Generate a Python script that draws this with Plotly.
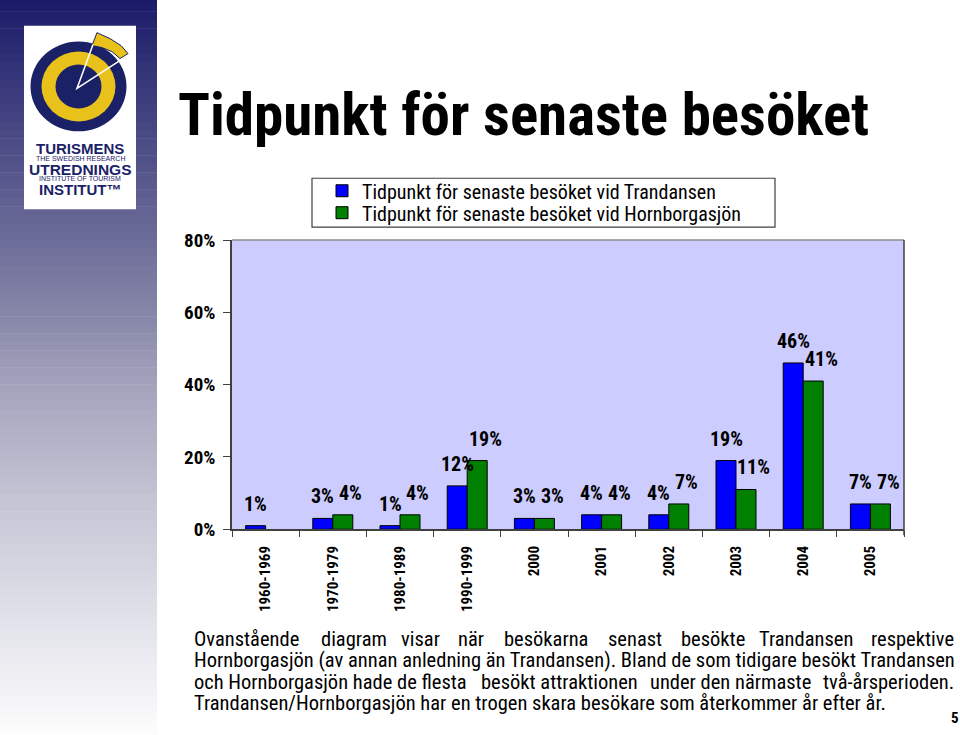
import plotly.graph_objects as go

W, H = 960, 735

categories = ["1960-1969", "1970-1979", "1980-1989", "1990-1999", "2000",
              "2001", "2002", "2003", "2004", "2005"]
trandansen = [1, 3, 1, 12, 3, 4, 4, 19, 46, 7]
hornborgasjon = [None, 4, 4, 19, 3, 4, 7, 11, 41, 7]
series_names = ["Tidpunkt för senaste besöket vid Trandansen",
                "Tidpunkt för senaste besöket vid Hornborgasjön"]
y_ticks = [0, 20, 40, 60, 80]
y_tick_labels = ["0%", "20%", "40%", "60%", "80%"]

title_text = "Tidpunkt för senaste besöket"
para_line1_words = ["Ovanstående", "diagram", "visar", "när", "besökarna", "senast",
                    "besökte", "Trandansen", "respektive"]
para_line2 = "Hornborgasjön (av annan anledning än Trandansen). Bland de som tidigare besökt Trandansen"
para_line3_parts = ["och Hornborgasjön hade de flesta", "besökt attraktionen",
                    "under den närmaste", "två-årsperioden."]
para_line4 = "Trandansen/Hornborgasjön har en trogen skara besökare som återkommer år efter år."
page_number = "5"

FONT = "Liberation Sans, Arial, sans-serif"
COND = "Roboto Condensed, Liberation Sans, Arial, sans-serif"
BLUE = "#0000FF"
GREEN = "#008000"
PLOT_BG = "#CCCCFF"

# the captured page maps figure pixel f to screen y = 10.3 + 0.9714 * f
Y_OFF, Y_SCALE = 10.3, 0.9714


def px(x):
    return x / W


def py(y):
    f = (y - Y_OFF) / Y_SCALE
    return 1 - f / H


fig = go.Figure()
fig.add_trace(go.Bar(x=categories, y=trandansen, name=series_names[0], legend="legend",
                     marker=dict(color=BLUE, line=dict(color="#000000", width=1))))
fig.add_trace(go.Bar(x=categories, y=hornborgasjon, name=series_names[1], legend="legend2",
                     marker=dict(color=GREEN, line=dict(color="#000000", width=1))))

PL, PR, PT, PB = 232, 904, 240, 530
cat_w = (PR - PL) / len(categories)
bargap = 0.405
bar_w = cat_w * (1 - bargap) / 2

annotations = []
for vals, shift in ((trandansen, -bar_w / 2), (hornborgasjon, bar_w / 2 + 8)):
    for i, v in enumerate(vals):
        if v is None:
            continue
        annotations.append(dict(x=i, y=v, xref="x", yref="y", text=f"<b>{v}%</b>",
                                showarrow=False, xshift=shift, yshift=8,
                                yanchor="bottom", xanchor="center",
                                font=dict(family=COND, size=20, color="#000000")))

shapes = []
N = 90
top_rgb = (24, 24, 104)
mid_rgb = (140, 140, 172)
bot_rgb = (255, 255, 255)
for i in range(N):
    t = i / (N - 1)
    if t < 0.45:
        u = t / 0.45
        c = [int(top_rgb[k] + (mid_rgb[k] - top_rgb[k]) * u) for k in range(3)]
    else:
        u = (t - 0.45) / 0.55
        c = [int(mid_rgb[k] + (bot_rgb[k] - mid_rgb[k]) * u ** 0.8) for k in range(3)]
    y0 = -15 + i * 765 / N
    y1 = -15 + (i + 1) * 765 / N + 0.5
    shapes.append(dict(type="rect", xref="paper", yref="paper", x0=px(0), x1=px(157),
                       y0=py(y0), y1=py(y1), fillcolor=f"rgb({c[0]},{c[1]},{c[2]})",
                       line=dict(width=0), layer="below"))
NAVY = "#1B2167"
YEL = "#E8C21A"
shapes.append(dict(type="rect", xref="paper", yref="paper", x0=px(24), x1=px(136),
                   y0=py(25), y1=py(209), fillcolor="#FFFFFF", line=dict(width=0)))
cx, cy = 78.5, 86
shapes.append(dict(type="circle", xref="paper", yref="paper", x0=px(cx - 48), x1=px(cx + 48),
                   y0=py(cy - 45), y1=py(cy + 45), fillcolor=NAVY, line=dict(width=0)))
shapes.append(dict(type="circle", xref="paper", yref="paper", x0=px(cx - 37), x1=px(cx + 37),
                   y0=py(cy - 35), y1=py(cy + 35), fillcolor=YEL, line=dict(width=0)))
shapes.append(dict(type="circle", xref="paper", yref="paper", x0=px(cx - 23), x1=px(cx + 23),
                   y0=py(cy - 22), y1=py(cy + 22), fillcolor=NAVY, line=dict(width=0)))
wedge = [(92, 45), (97, 32), (110, 38), (121, 45), (128, 53), (120, 58), (112, 51), (102, 47)]
path = "M " + " L ".join(f"{px(a)},{py(b)}" for a, b in wedge) + " Z"
shapes.append(dict(type="path", xref="paper", yref="paper", path=path, fillcolor=YEL,
                   line=dict(color=NAVY, width=1)))
cut = [(77, 88), (93, 44), (126, 56)]
path = f"M {px(cut[1][0])},{py(cut[1][1])} L {px(cut[0][0])},{py(cut[0][1])} L {px(cut[2][0])},{py(cut[2][1])}"
shapes.append(dict(type="path", xref="paper", yref="paper", path=path,
                   line=dict(color="#FFFFFF", width=1.5)))

logo_texts = [("TURISMENS", 148, 15, True), ("THE SWEDISH RESEARCH", 158, 7, False),
              ("UTREDNINGS", 169, 15.5, True), ("INSTITUTE OF TOURISM", 178.5, 7, False),
              ("INSTITUT™", 189, 15, True)]
for txt, yy, sz, bold in logo_texts:
    annotations.append(dict(x=px(80), y=py(yy), xref="paper", yref="paper",
                            text=f"<b>{txt}</b>" if bold else txt, showarrow=False,
                            xanchor="center", yanchor="middle",
                            font=dict(family=FONT, size=sz, color=NAVY)))

shapes.append(dict(type="line", xref="paper", yref="paper", x0=px(PL), x1=px(PR),
                   y0=py(PT), y1=py(PT), line=dict(color="#8C8C8C", width=1.5)))
shapes.append(dict(type="line", xref="paper", yref="paper", x0=px(PR), x1=px(PR),
                   y0=py(PT), y1=py(PB + 6), line=dict(color="#404040", width=1.5)))
shapes.append(dict(type="rect", xref="paper", yref="paper", x0=px(312), x1=px(775),
                   y0=py(178), y1=py(227), fillcolor="#FFFFFF",
                   line=dict(color="#404040", width=1.2), layer="below"))

annotations.append(dict(x=px(176), y=py(114), xref="paper", yref="paper",
                        text=f"<b>{title_text}</b>", showarrow=False, xanchor="left",
                        yanchor="middle", font=dict(family=COND, size=59, color="#000000")))

PARA = dict(family=COND, size=20.5, color="#000000")
line1_x = [192, 319, 399, 456, 502, 606, 679, 757, 956]
for k, (w_, xx) in enumerate(zip(para_line1_words, line1_x)):
    last = k == len(para_line1_words) - 1
    annotations.append(dict(x=px(xx), y=py(640), xref="paper", yref="paper", text=w_,
                            showarrow=False, xanchor="right" if last else "left",
                            yanchor="middle", font=PARA))
annotations.append(dict(x=px(192), y=py(661), xref="paper", yref="paper", text=para_line2,
                        showarrow=False, xanchor="left", yanchor="middle", font=PARA))
for txt, xx, anc in zip(para_line3_parts, [192, 479, 648, 956],
                        ["left", "left", "left", "right"]):
    annotations.append(dict(x=px(xx), y=py(683), xref="paper", yref="paper", text=txt,
                            showarrow=False, xanchor=anc, yanchor="middle", font=PARA))
annotations.append(dict(x=px(192), y=py(704), xref="paper", yref="paper", text=para_line4,
                        showarrow=False, xanchor="left", yanchor="middle", font=PARA))
annotations.append(dict(x=px(955), y=py(719), xref="paper", yref="paper",
                        text=f"<b>{page_number}</b>", showarrow=False, xanchor="center",
                        yanchor="middle", font=dict(family=COND, size=15, color="#000000")))

legend_common = dict(x=px(322), xanchor="left", yanchor="top",
                     bgcolor="rgba(0,0,0,0)", borderwidth=0,
                     font=dict(family=COND, size=20, color="#000000"),
                     tracegroupgap=0, itemwidth=30)

fig.update_layout(
    width=W, height=H,
    margin=dict(l=0, r=0, t=0, b=0),
    paper_bgcolor="#FFFFFF",
    plot_bgcolor=PLOT_BG,
    barmode="group", bargap=bargap, bargroupgap=0,
    shapes=shapes, annotations=annotations,
    showlegend=True,
    legend=dict(y=py(171), **legend_common),
    legend2=dict(y=py(193), **legend_common),
    xaxis=dict(domain=[px(PL), px(PR)], type="category", range=[-0.5, 9.5],
               tickangle=-90,
               showline=True, linecolor="#404040", linewidth=1.5,
               ticks="outside", tickson="boundaries", ticklen=6, tickcolor="#404040",
               tickfont=dict(family=COND, size=15, color="#000000"),
               ticklabelstandoff=9,
               showgrid=False, zeroline=False),
    yaxis=dict(domain=[py(PB), py(PT)], range=[0, 80], tickvals=y_ticks,
               ticktext=[f"<b>{t}</b>" for t in y_tick_labels],
               showline=True, linecolor="#404040", linewidth=1.5,
               ticks="outside", ticklen=7, tickcolor="#404040",
               tickfont=dict(family=COND, size=19, color="#000000"),
               ticklabelstandoff=4,
               showgrid=False, zeroline=False),
)
fig.update_xaxes(tickprefix="<b>", ticksuffix="</b>")

fig.write_html("out.html")
